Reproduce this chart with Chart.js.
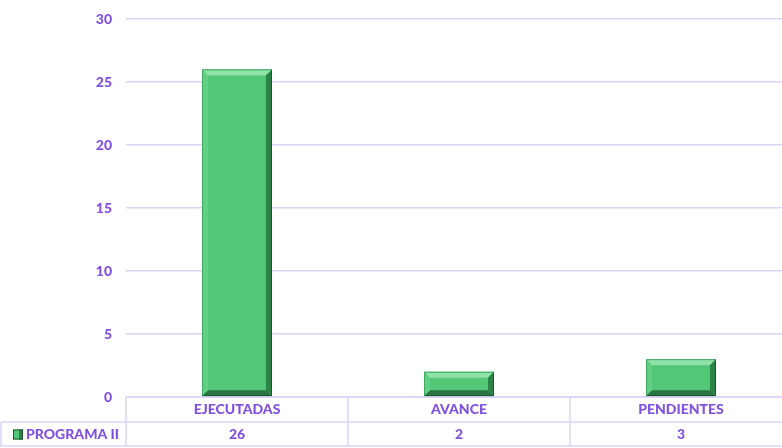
<!DOCTYPE html>
<html><head><meta charset="utf-8">
<script src="https://cdn.jsdelivr.net/npm/chart.js@4"></script>
<style>
html,body{margin:0;padding:0;background:#fff;overflow:hidden;width:782px;height:448px;}
#wrap{position:relative;width:800px;height:448px;}
</style></head><body>
<div id="wrap"><canvas id="c"></canvas></div>
<script>
const categories = ['EJECUTADAS', 'AVANCE', 'PENDIENTES'];
const seriesName = 'PROGRAMA II';
const values = [26, 2, 3];
const yTicks = [0, 5, 10, 15, 20, 25, 30];

const PURPLE = '#8150E2';
const GRID = '#DCD4F6';
const FONT = 'Lato, "Open Sans", sans-serif';

const bevelPlugin = {
  id: 'bevel',
  afterDatasetsDraw(chart) {
    const ctx = chart.ctx;
    const meta = chart.getDatasetMeta(0);
    meta.data.forEach(bar => {
      const l = bar.x - bar.width / 2, r = bar.x + bar.width / 2;
      const t = Math.min(bar.y, bar.base), b = Math.max(bar.y, bar.base);
      const h = b - t;
      const s = Math.min(6, h / 3);
      ctx.save();
      ctx.fillStyle = '#52C777';
      ctx.fillRect(l, t, r - l, h);
      ctx.fillStyle = '#8FE3A8';
      ctx.beginPath(); ctx.moveTo(l, t); ctx.lineTo(r, t); ctx.lineTo(r - s, t + s); ctx.lineTo(l + s, t + s); ctx.closePath(); ctx.fill();
      ctx.fillStyle = '#62CF84';
      ctx.beginPath(); ctx.moveTo(l, t); ctx.lineTo(l + s, t + s); ctx.lineTo(l + s, b - s); ctx.lineTo(l, b); ctx.closePath(); ctx.fill();
      ctx.fillStyle = '#2C8348';
      ctx.beginPath(); ctx.moveTo(r, t); ctx.lineTo(r, b); ctx.lineTo(r - s, b - s); ctx.lineTo(r - s, t + s); ctx.closePath(); ctx.fill();
      ctx.fillStyle = '#2A7543';
      ctx.beginPath(); ctx.moveTo(l, b); ctx.lineTo(r, b); ctx.lineTo(r - s, b - s); ctx.lineTo(l + s, b - s); ctx.closePath(); ctx.fill();
      ctx.strokeStyle = '#1F5231';
      ctx.lineWidth = 1;
      ctx.beginPath(); ctx.moveTo(r - 0.5, t); ctx.lineTo(r - 0.5, b - 0.5); ctx.lineTo(l, b - 0.5); ctx.stroke();
      ctx.strokeStyle = '#3FA862';
      ctx.beginPath(); ctx.moveTo(l + 0.5, b); ctx.lineTo(l + 0.5, t + 0.5); ctx.lineTo(r, t + 0.5); ctx.stroke();
      ctx.restore();
    });
  }
};

const tablePlugin = {
  id: 'dataTable',
  afterDraw(chart) {
    const ctx = chart.ctx;
    const x = chart.scales.x;
    const ca = chart.chartArea;
    const top = ca.bottom, row = 25;
    const n = categories.length;
    const step = (ca.right - ca.left) / n;
    ctx.save();
    ctx.strokeStyle = GRID;
    ctx.lineWidth = 1.5;
    ctx.beginPath();
    ctx.moveTo(ca.left, top); ctx.lineTo(ca.right, top);
    ctx.moveTo(1, top + row); ctx.lineTo(ca.right, top + row);
    ctx.moveTo(1, top + 2 * row - 1); ctx.lineTo(ca.right, top + 2 * row - 1);
    for (let i = 0; i <= n; i++) {
      const xx = ca.left + i * step;
      ctx.moveTo(xx, top); ctx.lineTo(xx, top + 2 * row);
    }
    ctx.moveTo(1, top + row); ctx.lineTo(1, top + 2 * row);
    ctx.stroke();
    ctx.fillStyle = PURPLE;
    ctx.font = '900 14px ' + FONT;
    ctx.textAlign = 'center';
    ctx.textBaseline = 'middle';
    categories.forEach((c, i) => {
      const cx = x.getPixelForValue(i);
      ctx.fillText(c, cx, top + row / 2);
      ctx.fillText(String(values[i]), cx, top + row * 1.5);
    });
    const ky = top + row * 1.5;
    ctx.fillStyle = '#52C777';
    ctx.fillRect(13, ky - 5, 10, 10);
    ctx.fillStyle = '#2C8348';
    ctx.fillRect(19, ky - 5, 4, 10);
    ctx.strokeStyle = '#1F5231';
    ctx.lineWidth = 1;
    ctx.strokeRect(13.5, ky - 4.5, 9, 9);
    ctx.fillStyle = PURPLE;
    ctx.textAlign = 'left';
    ctx.fillText(seriesName, 26, ky);
    ctx.restore();
  }
};

new Chart(document.getElementById('c'), {
  type: 'bar',
  data: {
    labels: categories,
    datasets: [{
      label: seriesName,
      data: values,
      backgroundColor: 'rgba(0,0,0,0)',
      borderWidth: 0,
      barPercentage: 0.315,
      categoryPercentage: 1
    }]
  },
  options: {
    responsive: true,
    maintainAspectRatio: false,
    animation: false,
    layout: { padding: { top: 0, right: 8, bottom: 51, left: 0 } },
    plugins: { legend: { display: false }, tooltip: { enabled: false } },
    scales: {
      x: { display: false },
      y: {
        min: 0, max: 30,
        afterFit(s) { s.width = 126; s.paddingTop = 19; },
        afterBuildTicks(s) { s.ticks = yTicks.map(v => ({ value: v })); },
        border: { display: false },
        grid: { color: GRID, lineWidth: 1.5, drawTicks: false },
        ticks: { color: PURPLE, font: { family: FONT, size: 14, weight: '900', lineHeight: 0.72 }, padding: 14 }
      }
    }
  },
  plugins: [bevelPlugin, tablePlugin]
});
</script>
</body></html>
